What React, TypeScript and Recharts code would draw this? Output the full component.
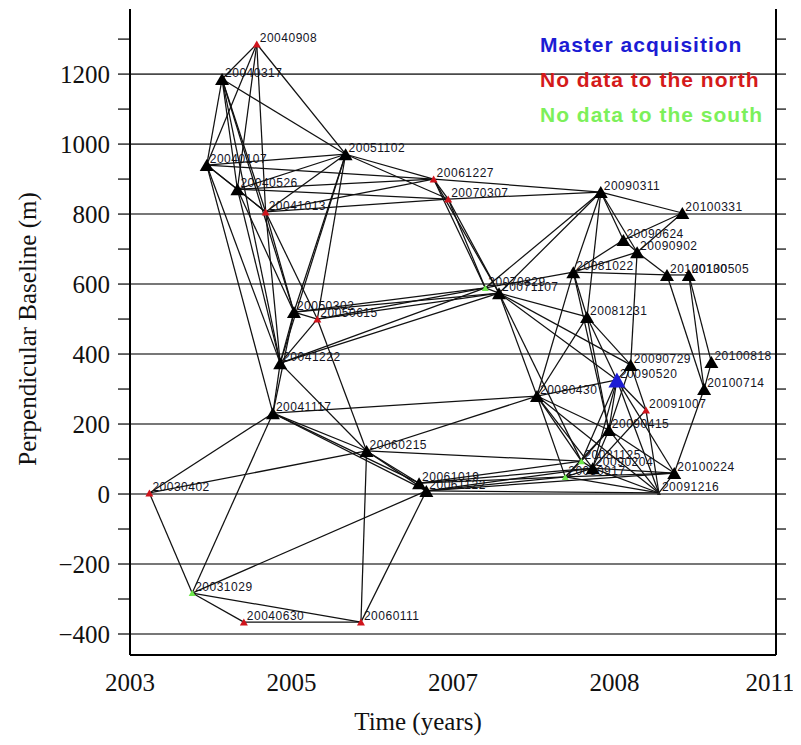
import React from 'react';
import { ScatterChart, Scatter, XAxis, YAxis, ReferenceLine } from 'recharts';

// acquisitions: date label, position on the time axis, perpendicular baseline (m), category
const ACQ_DATES = [
  '20040908', '20040317', '20051102', '20040107', '20040526', '20041013', '20061227', '20070307',
  '20090311', '20100331', '20090624', '20090902', '20081022', '20100130', '20100505', '20070829',
  '20071107', '20050302', '20050615', '20081231', '20041222', '20090729', '20100818', '20090520',
  '20100714', '20080430', '20091007', '20090415', '20041117', '20060215', '20061019', '20061122',
  '20081125', '20090204', '20080917', '20100224', '20091216', '20030402', '20031029', '20040630',
  '20060111',
];
const ACQ_TIME = [
  2004.57, 2004.14, 2005.67, 2003.95, 2004.33, 2004.68, 2006.76, 2006.94,
  2008.83, 2009.84, 2009.11, 2009.28, 2008.49, 2009.65, 2009.92, 2007.40,
  2007.57, 2005.03, 2005.32, 2008.66, 2004.86, 2009.20, 2010.20, 2009.03,
  2010.11, 2008.04, 2009.39, 2008.93, 2004.77, 2005.93, 2006.58, 2006.67,
  2008.59, 2008.73, 2008.39, 2009.74, 2009.55, 2003.24, 2003.77, 2004.41,
  2005.86,
];
const ACQ_BPERP = [
  1286, 1186, 971, 940, 871, 806, 900, 843,
  863, 803, 726, 691, 634, 626, 626, 589,
  574, 520, 500, 506, 374, 369, 377, 326,
  300, 280, 240, 183, 231, 123, 31, 9,
  94, 74, 49, 60, 3, 3, -283, -366,
  -366,
];
const ACQ_KIND = [
  'north', 'normal', 'normal', 'normal', 'normal', 'north', 'north', 'north',
  'normal', 'normal', 'normal', 'normal', 'normal', 'normal', 'normal', 'south',
  'normal', 'normal', 'north', 'normal', 'normal', 'normal', 'normal', 'master',
  'normal', 'normal', 'north', 'normal', 'normal', 'normal', 'normal', 'normal',
  'south', 'normal', 'south', 'normal', 'minor', 'north', 'south', 'north',
  'north',
];

// interferometric pairs
const PAIRS: [string, string][] = [
  ['20040908', '20040317'], ['20040908', '20040107'], ['20040908', '20040526'], ['20040908', '20041013'],
  ['20040908', '20051102'], ['20040317', '20040107'], ['20040317', '20040526'], ['20040317', '20041013'],
  ['20040317', '20051102'], ['20040317', '20050302'], ['20040317', '20041222'], ['20040107', '20040526'],
  ['20040107', '20041013'], ['20040107', '20051102'], ['20040107', '20061227'], ['20040107', '20041222'],
  ['20040107', '20041117'], ['20040526', '20041013'], ['20040526', '20051102'], ['20040526', '20061227'],
  ['20040526', '20070307'], ['20040526', '20050302'], ['20040526', '20041222'], ['20041013', '20051102'],
  ['20041013', '20070307'], ['20041013', '20061227'], ['20041013', '20050302'], ['20041013', '20041222'],
  ['20041013', '20050615'], ['20051102', '20061227'], ['20051102', '20070307'], ['20051102', '20050302'],
  ['20051102', '20050615'], ['20051102', '20041222'], ['20061227', '20070307'], ['20061227', '20090311'],
  ['20070307', '20090311'], ['20061227', '20070829'], ['20070307', '20070829'], ['20070307', '20071107'],
  ['20061227', '20071107'], ['20050302', '20050615'], ['20050302', '20041222'], ['20050302', '20041117'],
  ['20050302', '20070829'], ['20050302', '20071107'], ['20050615', '20070829'], ['20050615', '20071107'],
  ['20050615', '20041222'], ['20050615', '20060215'], ['20041222', '20070829'], ['20041222', '20071107'],
  ['20041222', '20041117'], ['20041222', '20060215'], ['20041117', '20060215'], ['20041117', '20061019'],
  ['20041117', '20061122'], ['20041117', '20080430'], ['20041117', '20030402'], ['20041117', '20031029'],
  ['20060215', '20061019'], ['20060215', '20061122'], ['20060215', '20030402'], ['20060215', '20060111'],
  ['20060215', '20080430'], ['20060215', '20081125'], ['20030402', '20031029'], ['20031029', '20040630'],
  ['20031029', '20060111'], ['20031029', '20061122'], ['20040630', '20060111'], ['20060111', '20061122'],
  ['20061019', '20061122'], ['20061019', '20081125'], ['20061019', '20090204'], ['20061019', '20080917'],
  ['20061122', '20090204'], ['20061122', '20080917'], ['20061122', '20091216'], ['20061122', '20100224'],
  ['20070829', '20071107'], ['20070829', '20081022'], ['20070829', '20090311'], ['20071107', '20090311'],
  ['20071107', '20081231'], ['20071107', '20090520'], ['20071107', '20090729'], ['20071107', '20080430'],
  ['20071107', '20081125'], ['20090311', '20100331'], ['20090311', '20090624'], ['20090311', '20090902'],
  ['20090311', '20081022'], ['20090311', '20081231'], ['20100331', '20090624'], ['20100331', '20090902'],
  ['20090624', '20090902'], ['20090624', '20081022'], ['20090902', '20100130'], ['20090902', '20090729'],
  ['20090902', '20081022'], ['20081022', '20100130'], ['20081022', '20080430'], ['20081022', '20090415'],
  ['20081022', '20081231'], ['20100130', '20100505'], ['20100130', '20100714'], ['20100505', '20100818'],
  ['20100505', '20100714'], ['20100818', '20100714'], ['20100714', '20100224'], ['20081231', '20090520'],
  ['20081231', '20090729'], ['20081231', '20080430'], ['20081231', '20090415'], ['20090729', '20090520'],
  ['20090729', '20090415'], ['20090729', '20091007'], ['20090520', '20091007'], ['20090520', '20090415'],
  ['20090520', '20081125'], ['20090520', '20090204'], ['20090520', '20091216'], ['20090520', '20100224'],
  ['20090520', '20080430'], ['20080430', '20090415'], ['20080430', '20081125'], ['20080430', '20090204'],
  ['20080430', '20080917'], ['20080430', '20091216'], ['20090415', '20081125'], ['20090415', '20090204'],
  ['20090415', '20080917'], ['20090415', '20091216'], ['20090415', '20100224'], ['20091007', '20090204'],
  ['20091007', '20091216'], ['20081125', '20090204'], ['20081125', '20080917'], ['20090204', '20080917'],
  ['20090204', '20091216'], ['20090204', '20100224'], ['20080917', '20091216'], ['20080917', '20100224'],
  ['20100224', '20091216'],
];

const X_TICKS = [2003, 2005, 2007, 2009, 2011];
const X_TICK_LABELS = ['2003', '2005', '2007', '2008', '2011'];
const Y_TICKS = [-400, -300, -200, -100, 0, 100, 200, 300, 400, 500, 600, 700, 800, 900, 1000, 1100, 1200, 1300];
const Y_GRID = [-400, -200, 0, 200, 400, 600, 800, 1000, 1200];

const LEGEND = [
  { text: 'Master acquisition', color: '#1c1cd4' },
  { text: 'No data to the north', color: '#d41a1a' },
  { text: 'No data to the south', color: '#7cf05a' },
];

const SERIF = '"Liberation Serif", "Times New Roman", serif';
const SANS = '"Liberation Sans", Arial, sans-serif';

const KIND_STYLE: Record<string, { fill: string; w: number; h: number }> = {
  normal: { fill: '#000', w: 14, h: 12 },
  minor: { fill: '#222', w: 4, h: 4 },
  master: { fill: '#1c1cd4', w: 17, h: 15 },
  north: { fill: '#d0141c', w: 8, h: 7 },
  south: { fill: '#6fe84c', w: 7, h: 6 },
};

const points = ACQ_DATES.map((date, i) => ({
  date,
  x: ACQ_TIME[i],
  y: ACQ_BPERP[i],
  kind: ACQ_KIND[i],
}));
const byDate: Record<string, (typeof points)[number]> = {};
points.forEach((p) => (byDate[p.date] = p));
const edges = PAIRS.map(([a, b]) => [byDate[a], byDate[b]]);

const Triangle = (props: any) => {
  const { cx, cy, payload } = props;
  if (cx == null || cy == null) return <g />;
  const s = KIND_STYLE[payload.kind];
  const pts = `${cx - s.w / 2},${cy + s.h / 2} ${cx + s.w / 2},${cy + s.h / 2} ${cx},${cy - s.h / 2}`;
  return <polygon points={pts} fill={s.fill} />;
};

const DateLabel = (props: any) => {
  const { cx, cy, payload } = props;
  if (cx == null || cy == null) return <g />;
  return (
    <text x={cx + 3} y={cy - 2} fontSize={12} letterSpacing={0.5} fontFamily={SANS} fill="#14141f">
      {payload.date}
    </text>
  );
};

// last year label sits just inside the right edge
const XTick = (props: any) => {
  const { x, y, payload, index } = props;
  const shift = index === X_TICKS.length - 1 ? -6 : 0;
  return (
    <text x={x + shift} y={y} dy="0.71em" textAnchor="middle" fontFamily={SERIF} fontSize={25} fill="#111">
      {X_TICK_LABELS[X_TICKS.indexOf(payload.value)]}
    </text>
  );
};

const fmtY = (v: number) => {
  if (v % 200 !== 0) return '';
  return v < 0 ? '\u2212' + Math.abs(v) : String(v);
};

export default function App() {
  const normalPts = points.filter((p) => p.kind !== 'master');
  const masterPts = points.filter((p) => p.kind === 'master');

  return (
    <div style={{ position: 'relative', width: 793, height: 729 }}>
      <ScatterChart width={793} height={729} margin={{ top: 1, right: 0, bottom: 0, left: 0 }}>
        <XAxis
          type="number"
          dataKey="x"
          domain={[2003, 2011]}
          ticks={X_TICKS}
          allowDataOverflow
          interval={0}
          height={82}
          tickLine={false}
          tickMargin={12}
          axisLine={{ stroke: '#000', strokeWidth: 2 }}
          tick={<XTick />}
        />
        <XAxis
          xAxisId="top"
          orientation="top"
          type="number"
          domain={[2003, 2011]}
          height={0}
          tick={false}
          tickLine={false}
          axisLine={{ stroke: '#000', strokeWidth: 2 }}
        />
        <YAxis
          type="number"
          dataKey="y"
          domain={[-460, 1386]}
          ticks={Y_TICKS}
          tickFormatter={fmtY}
          allowDataOverflow
          interval={0}
          width={122}
          tickSize={12}
          tickMargin={8}
          axisLine={{ stroke: '#000', strokeWidth: 2 }}
          tickLine={{ stroke: '#000', strokeWidth: 1.2 }}
          tick={{ fontFamily: SERIF, fontSize: 25, fill: '#111' }}
        />
        <YAxis
          yAxisId="right"
          orientation="right"
          type="number"
          domain={[-460, 1386]}
          ticks={Y_TICKS}
          tickFormatter={() => ''}
          allowDataOverflow
          interval={0}
          width={25}
          tickSize={10}
          axisLine={{ stroke: '#000', strokeWidth: 2 }}
          tickLine={{ stroke: '#000', strokeWidth: 1.2 }}
        />

        {Y_GRID.map((v) => (
          <ReferenceLine key={'g' + v} y={v} stroke="#4a4a4a" strokeWidth={1.6} />
        ))}

        <Scatter data={points} shape={DateLabel} isAnimationActive={false} />

        {edges.map(([a, b], i) => (
          <Scatter
            key={'e' + i}
            data={[a, b]}
            line={{ stroke: '#111', strokeWidth: 1.25 }}
            shape={() => <g />}
            isAnimationActive={false}
          />
        ))}

        <Scatter data={normalPts} shape={Triangle} isAnimationActive={false} />
        <Scatter data={masterPts} shape={Triangle} isAnimationActive={false} />
      </ScatterChart>

      {LEGEND.map((l, i) => (
        <div
          key={l.text}
          style={{
            position: 'absolute',
            left: 532,
            top: 26 + i * 35,
            fontFamily: SANS,
            fontWeight: 'bold',
            fontSize: 21,
            letterSpacing: 1,
            lineHeight: '21px',
            color: l.color,
            whiteSpace: 'nowrap',
          }}
        >
          {l.text}
        </div>
      ))}

      <div
        style={{
          position: 'absolute',
          left: 20,
          top: 321,
          transform: 'translate(-50%, -50%) rotate(-90deg)',
          fontFamily: SERIF,
          fontSize: 25,
          color: '#111',
          whiteSpace: 'nowrap',
        }}
      >
        Perpendicular Baseline (m)
      </div>
      <div
        style={{
          position: 'absolute',
          left: 410,
          top: 714,
          transform: 'translate(-50%, -50%)',
          fontFamily: SERIF,
          fontSize: 25,
          color: '#111',
          whiteSpace: 'nowrap',
        }}
      >
        Time (years)
      </div>
    </div>
  );
}
